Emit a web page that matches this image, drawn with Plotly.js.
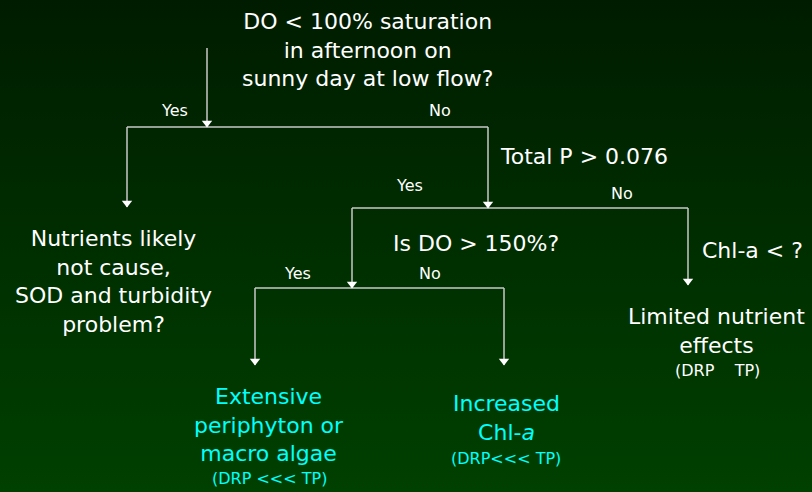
<!DOCTYPE html>
<html>
<head>
<meta charset="utf-8">
<script src="https://cdn.plot.ly/plotly-3.0.1.min.js"></script>
<style>
  html, body { margin:0; padding:0; }
  body { width:812px; height:492px; background: linear-gradient(to bottom, #001c00 0%, #002e00 50%, #004000 100%); }
  #chart { width:812px; height:492px; }
</style>
</head>
<body>
<div id="chart"></div>
<script>
// ---- Diagram content ----
const questionTexts = [
  "DO &lt; 100% saturation<br>in afternoon on<br>sunny day at low flow?",
  "Total P &gt; 0.076",
  "Is DO &gt; 150%?",
  "Chl-a &lt; ?"
];
const questionX = [367, 498, 476, 752];
const questionY = [50, 156, 243, 250];
const questionAlign = ["center", "left", "center", "center"];

const outcomeTexts = [
  "Nutrients likely<br>not cause,<br>SOD and turbidity<br>problem?",
  "Limited nutrient<br>effects",
  "Extensive<br>periphyton or<br>macro algae",
  "Increased<br>Chl-<i>a</i>"
];
const outcomeX = [113, 716, 269, 506];
const outcomeY = [281, 331, 425, 418];
const outcomeColors = ["#ffffff", "#ffffff", "#00ffff", "#00ffff"];

const noteTexts = ["(DRP &nbsp;&nbsp; TP)", "(DRP &lt;&lt;&lt; TP)", "(DRP&lt;&lt;&lt; TP)"];
const noteX = [717, 269, 506];
const noteY = [370, 478, 458];
const noteColors = ["#ffffff", "#00ffff", "#00ffff"];

const branchLabels = ["Yes", "No", "Yes", "No", "Yes", "No"];
const branchX = [174, 440, 409, 622, 297, 430];
const branchY = [110, 110, 185, 193, 273, 273];

// connector segments: [x0, y0, x1, y1, hasArrow]
const segX0 = [207, 127, 127, 488, 352, 688, 352, 255, 255, 504];
const segY0 = [48, 127, 127, 127, 208, 208, 208, 288, 288, 288];
const segX1 = [207, 488, 127, 488, 688, 688, 352, 504, 255, 504];
const segY1 = [127, 127, 207, 208, 208, 285, 288, 288, 365, 365];
const segArrow = [true, false, true, true, false, true, true, false, true, true];

// ---- Build traces ----
const lineX = [], lineY = [];
const arrowX = [], arrowY = [];
for (let i = 0; i < segX0.length; i++) {
  lineX.push(segX0[i], segX1[i], null);
  lineY.push(segY0[i], segY1[i], null);
  if (segArrow[i]) { arrowX.push(segX1[i]); arrowY.push(segY1[i] - 4); }
}
const traces = [
  { x: lineX, y: lineY, mode: "lines", line: { color: "#c8c8c8", width: 1.5 }, hoverinfo: "skip", showlegend: false },
  { x: arrowX, y: arrowY, mode: "markers", marker: { symbol: "triangle-down", size: 9, color: "#ffffff" }, hoverinfo: "skip", showlegend: false }
];

const FONT = "DejaVu Sans, sans-serif";
const ann = [];
questionTexts.forEach((t, i) => ann.push({
  x: questionX[i], y: questionY[i], text: t, showarrow: false,
  xanchor: questionAlign[i] === "left" ? "left" : "center", yanchor: "middle", align: questionAlign[i],
  font: { family: FONT, size: 22, color: "#ffffff" }
}));
outcomeTexts.forEach((t, i) => ann.push({
  x: outcomeX[i], y: outcomeY[i], text: t, showarrow: false, xanchor: "center", yanchor: "middle", align: "center",
  font: { family: FONT, size: 22, color: outcomeColors[i] }
}));
noteTexts.forEach((t, i) => ann.push({
  x: noteX[i], y: noteY[i], text: t, showarrow: false, xanchor: "center", yanchor: "middle",
  font: { family: FONT, size: 16, color: noteColors[i] }
}));
branchLabels.forEach((t, i) => ann.push({
  x: branchX[i], y: branchY[i], text: t, showarrow: false, xanchor: "center", yanchor: "middle",
  font: { family: FONT, size: 16, color: "#ffffff" }
}));

const layout = {
  width: 812, height: 492,
  margin: { l: 0, r: 0, t: 0, b: 0 },
  paper_bgcolor: "rgba(0,0,0,0)", plot_bgcolor: "rgba(0,0,0,0)",
  xaxis: { range: [0, 812], visible: false, fixedrange: true },
  yaxis: { range: [492, 0], visible: false, fixedrange: true },
  annotations: ann,
  showlegend: false
};
Plotly.newPlot("chart", traces, layout, { displayModeBar: false, staticPlot: true });
</script>
</body>
</html>
